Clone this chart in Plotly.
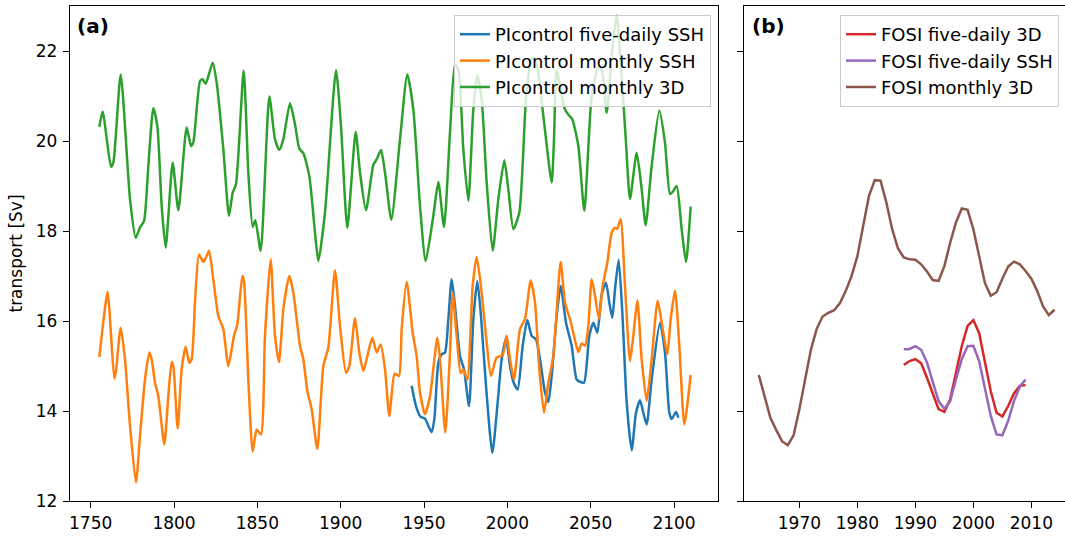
import plotly.graph_objects as go

# ---------------- data ----------------
green_years = [1755.2, 1757.2, 1762.2, 1763.6, 1768.0, 1773.6, 1777.0, 1779.6, 1782.0, 1784.6,
               1787.6, 1790.0, 1792.6, 1795.0, 1799.2, 1802.6, 1807.6, 1810.2, 1811.6, 1815.6,
               1817.2, 1819.0, 1823.2, 1825.6, 1829.6, 1833.0, 1835.2, 1837.2, 1841.8, 1844.6,
               1847.2, 1848.8, 1852.0, 1857.2, 1860.6, 1863.2, 1865.6, 1869.6, 1872.6, 1875.2,
               1877.6, 1881.2, 1884.6, 1886.6, 1890.6, 1897.2, 1900.2, 1904.0, 1909.0, 1911.6,
               1915.2, 1919.6, 1921.6, 1924.2, 1926.6, 1930.4, 1935.6, 1940.0, 1943.6, 1947.6,
               1951.0, 1955.6, 1958.6, 1962.0, 1965.6, 1968.6, 1970.6, 1973.6, 1976.6, 1979.6,
               1982.0, 1984.6, 1987.6, 1991.2, 1994.6, 1998.2, 2000.6, 2003.6, 2007.2, 2011.2,
               2014.6, 2017.6, 2021.6, 2026.6, 2028.0, 2029.6, 2034.6, 2037.2, 2039.0, 2042.6,
               2046.2, 2050.6, 2054.6, 2056.6, 2059.6, 2062.6, 2065.6, 2068.6, 2071.2, 2073.6,
               2077.6, 2080.6, 2083.0, 2086.6, 2091.2, 2094.6, 2097.6, 2099.2, 2101.6, 2104.6,
               2107.2, 2110.0]
green_vals = [20.31, 20.65, 19.43, 19.52, 21.48, 18.71, 17.85, 18.08, 18.22, 19.45,
              20.73, 20.33, 18.56, 17.63, 19.52, 18.46, 20.30, 19.89, 19.97, 21.33,
              21.37, 21.27, 21.74, 21.30, 19.82, 18.34, 18.85, 19.04, 21.56, 19.30,
              18.09, 18.24, 17.56, 20.99, 20.04, 19.80, 20.04, 20.84, 20.37, 19.83,
              19.73, 19.22, 17.96, 17.33, 18.41, 21.57, 20.33, 18.07, 20.20, 19.30,
              18.46, 19.47, 19.59, 19.80, 19.30, 18.25, 20.04, 21.48, 20.70, 18.56,
              17.33, 18.34, 19.09, 18.09, 20.19, 21.70, 21.59, 19.82, 18.67, 20.70,
              21.46, 20.93, 19.08, 17.56, 18.71, 19.57, 18.93, 18.04, 18.41, 20.93,
              21.85, 21.70, 20.56, 19.08, 20.04, 21.56, 20.70, 20.56, 20.48, 19.89,
              18.45, 21.00, 21.63, 21.59, 20.63, 21.89, 22.79, 21.45, 19.96, 18.71,
              19.74, 18.93, 18.13, 19.45, 20.68, 19.96, 18.82, 18.87, 19.00, 18.04,
              17.31, 18.54]

orange_years = [1755.2, 1760.2, 1762.0, 1764.2, 1765.2, 1768.0, 1770.6, 1773.6, 1777.2, 1779.6,
                1782.6, 1785.2, 1786.6, 1788.6, 1790.6, 1794.2, 1796.6, 1798.6, 1799.6, 1802.2,
                1804.6, 1807.0, 1809.2, 1810.6, 1812.6, 1815.0, 1817.6, 1819.2, 1821.0, 1823.6,
                1826.6, 1829.6, 1832.6, 1836.0, 1838.0, 1841.0, 1842.0, 1844.6, 1847.2, 1849.6,
                1852.2, 1854.6, 1858.0, 1860.6, 1863.0, 1865.6, 1869.2, 1871.6, 1875.6, 1877.6,
                1880.0, 1882.6, 1886.0, 1889.6, 1892.6, 1896.6, 1899.6, 1903.2, 1905.2, 1908.6,
                1911.2, 1913.6, 1916.0, 1919.0, 1921.6, 1924.0, 1926.6, 1929.2, 1932.4, 1935.0,
                1936.6, 1939.6, 1943.2, 1945.6, 1947.6, 1950.6, 1953.6, 1958.0, 1959.6, 1962.8,
                1965.6, 1967.2, 1969.6, 1972.0, 1973.6, 1976.0, 1979.2, 1981.6, 1984.6, 1987.2,
                1990.2, 1993.6, 1997.2, 1999.6, 2001.6, 2004.0, 2007.6, 2010.6, 2014.0, 2016.6,
                2019.2, 2022.0, 2024.6, 2027.6, 2032.0, 2034.6, 2037.6, 2040.0, 2042.6, 2044.6,
                2046.6, 2048.6, 2050.6, 2052.6, 2055.0, 2057.2, 2060.0, 2062.6, 2064.6, 2066.0,
                2068.0, 2070.6, 2073.6, 2075.6, 2078.0, 2080.6, 2083.6, 2086.6, 2090.2, 2093.2,
                2096.0, 2098.0, 2100.6, 2103.2, 2106.2, 2110.0]
orange_vals = [15.20, 16.65, 15.82, 14.72, 14.89, 15.85, 15.15, 13.67, 12.41, 13.45,
               14.70, 15.30, 15.15, 14.63, 14.33, 13.26, 14.33, 15.09, 15.00, 13.61,
               14.93, 15.43, 15.07, 15.15, 16.41, 17.48, 17.31, 17.41, 17.56, 16.93,
               16.11, 15.82, 15.00, 15.67, 15.93, 17.00, 16.89, 14.70, 13.10, 13.59,
               13.48, 15.67, 17.37, 15.67, 15.09, 16.26, 17.00, 16.63, 15.45, 15.15,
               14.45, 14.04, 13.16, 15.00, 15.41, 17.13, 15.89, 14.85, 15.00, 16.06,
               15.30, 14.89, 15.22, 15.63, 15.30, 15.48, 14.93, 13.89, 14.83, 14.78,
               15.82, 16.87, 15.74, 15.22, 14.41, 13.93, 14.33, 15.63, 15.15, 13.52,
               15.30, 16.63, 15.67, 14.84, 14.93, 14.70, 16.78, 17.43, 16.63, 15.67,
               14.78, 15.19, 15.24, 15.67, 15.15, 14.70, 15.82, 16.04, 16.90, 16.41,
               14.93, 13.96, 14.63, 15.22, 17.31, 16.41, 16.04, 15.67, 15.31, 15.50,
               15.45, 15.89, 16.93, 16.56, 16.05, 16.78, 17.30, 17.96, 18.07, 18.05,
               18.26, 16.78, 15.11, 15.67, 16.46, 15.15, 14.22, 15.15, 16.45, 15.82,
               15.26, 16.04, 16.67, 15.45, 13.70, 14.80]

blue_years = [1942.6, 1945.2, 1948.0, 1950.6, 1952.6, 1954.6, 1956.2, 1958.6, 1960.6, 1962.6,
              1964.6, 1966.6, 1968.6, 1971.6, 1974.0, 1977.0, 1979.6, 1982.0, 1984.2, 1987.2,
              1991.0, 1994.0, 1996.6, 1999.2, 2001.6, 2003.6, 2006.2, 2009.2, 2012.0, 2014.6,
              2017.2, 2019.6, 2022.6, 2024.6, 2026.6, 2029.6, 2032.0, 2035.2, 2038.6, 2041.6,
              2043.6, 2046.0, 2049.2, 2051.6, 2054.0, 2056.6, 2059.2, 2061.2, 2063.0, 2064.6,
              2066.8, 2069.2, 2071.6, 2074.6, 2077.2, 2079.6, 2081.6, 2083.6, 2086.6, 2091.6,
              2094.6, 2097.2, 2098.6, 2101.2, 2102.6]
blue_vals = [14.56, 14.11, 13.87, 13.83, 13.67, 13.53, 13.82, 15.07, 15.26, 15.30,
             16.04, 16.93, 16.33, 15.22, 14.93, 14.11, 16.04, 16.89, 16.11, 14.56,
             13.07, 14.11, 15.15, 15.61, 15.00, 14.65, 14.48, 15.45, 16.02, 15.67,
             15.59, 15.15, 14.41, 14.20, 14.78, 16.11, 16.78, 15.96, 15.45, 14.70,
             14.65, 14.63, 15.67, 15.96, 15.74, 16.59, 16.85, 16.41, 16.07, 16.70,
             17.36, 16.04, 14.19, 13.13, 13.96, 14.24, 13.96, 13.70, 14.70, 15.96,
             15.30, 13.96, 13.82, 13.98, 13.85]

brown_years = list(range(1963, 2015))
brown_vals = [14.80, 14.30, 13.85, 13.58, 13.33, 13.24, 13.46, 14.04, 14.74, 15.37,
              15.83, 16.10, 16.18, 16.24, 16.40, 16.67, 17.00, 17.44, 18.11, 18.78,
              19.13, 19.12, 18.63, 18.04, 17.61, 17.41, 17.37, 17.36, 17.26, 17.10,
              16.91, 16.89, 17.22, 17.74, 18.19, 18.50, 18.47, 18.04, 17.44, 16.84,
              16.56, 16.64, 16.94, 17.21, 17.32, 17.26, 17.11, 16.94, 16.67, 16.33,
              16.13, 16.25]

fosi_years = list(range(1988, 2010))
red_vals = [15.02, 15.11, 15.15, 15.06, 14.74, 14.37, 14.04, 13.98, 14.26, 14.85,
            15.44, 15.89, 16.02, 15.73, 15.08, 14.44, 13.96, 13.88, 14.11, 14.39,
            14.56, 14.58]
purple_vals = [15.37, 15.38, 15.44, 15.36, 15.08, 14.63, 14.22, 14.05, 14.22, 14.70,
               15.15, 15.44, 15.45, 15.11, 14.50, 13.89, 13.48, 13.46, 13.78, 14.22,
               14.54, 14.70]

x_ticks_a = [1750, 1800, 1850, 1900, 1950, 2000, 2050, 2100]
x_ticks_b = [1970, 1980, 1990, 2000, 2010]
y_ticks = [12, 14, 16, 18, 20, 22]

# ---------------- figure ----------------
FONT = "DejaVu Sans"
LW = 2.5
fig = go.Figure()

fig.add_trace(go.Scatter(x=blue_years, y=blue_vals, mode="lines", name="PIcontrol five-daily SSH",
                         line=dict(color="#1f77b4", width=LW, shape="spline", smoothing=0.6),
                         xaxis="x", yaxis="y", legend="legend"))
fig.add_trace(go.Scatter(x=orange_years, y=orange_vals, mode="lines", name="PIcontrol monthly SSH",
                         line=dict(color="#ff7f0e", width=LW, shape="spline", smoothing=0.6),
                         xaxis="x", yaxis="y", legend="legend"))
fig.add_trace(go.Scatter(x=green_years, y=green_vals, mode="lines", name="PIcontrol monthly 3D",
                         line=dict(color="#2ca02c", width=LW, shape="spline", smoothing=0.6),
                         xaxis="x", yaxis="y", legend="legend"))

fig.add_trace(go.Scatter(x=fosi_years, y=red_vals, mode="lines", name="FOSI five-daily 3D",
                         line=dict(color="#d62728", width=LW),
                         xaxis="x2", yaxis="y2", legend="legend2"))
fig.add_trace(go.Scatter(x=fosi_years, y=purple_vals, mode="lines", name="FOSI five-daily SSH",
                         line=dict(color="#9467bd", width=LW),
                         xaxis="x2", yaxis="y2", legend="legend2"))
fig.add_trace(go.Scatter(x=brown_years, y=brown_vals, mode="lines", name="FOSI monthly 3D",
                         line=dict(color="#8c564b", width=LW),
                         xaxis="x2", yaxis="y2", legend="legend2"))

axis_common = dict(showgrid=False, zeroline=False, showline=True, linecolor="black", linewidth=1.3,
                   ticks="outside", ticklen=6, tickwidth=1.3, tickcolor="black",
                   tickfont=dict(family=FONT, size=17, color="black"))

W, H = 1065, 537
ml, mr, mt, mb = 70, 0, 6, 36
pw = W - ml - mr
ph = H - mt - mb

fig.update_layout(
    width=W, height=H,
    margin=dict(l=ml, r=mr, t=mt, b=mb),
    paper_bgcolor="white", plot_bgcolor="white",
    font=dict(family=FONT, size=17, color="black"),
    xaxis=dict(domain=[0, (718 - ml) / pw], range=[1737.6, 2126.4], tickvals=x_ticks_a,
               mirror=True, anchor="y", **axis_common),
    yaxis=dict(domain=[0, 1], range=[12, 23], tickvals=y_ticks, mirror=True, anchor="x",
               title=dict(text="transport [Sv]", font=dict(family=FONT, size=17), standoff=8),
               ticklabelstandoff=2, **axis_common),
    xaxis2=dict(domain=[(744 - ml) / pw, 1], range=[1960.45, 2015.8], tickvals=x_ticks_b,
                mirror=True, anchor="y2", **axis_common),
    yaxis2=dict(domain=[0, 1], range=[12, 23], tickvals=y_ticks, showticklabels=False,
                anchor="x2", **axis_common),
    legend=dict(x=(711 - ml) / pw, y=1 - (15 - mt) / ph, xanchor="right", yanchor="top",
                bgcolor="rgba(255,255,255,0.8)", bordercolor="#cccccc", borderwidth=1,
                font=dict(family=FONT, size=18, color="black")),
    legend2=dict(x=(1059 - ml) / pw, y=1 - (15 - mt) / ph, xanchor="right", yanchor="top",
                 bgcolor="rgba(255,255,255,0.8)", bordercolor="#cccccc", borderwidth=1,
                 font=dict(family=FONT, size=18, color="black")),
    showlegend=True,
)

fig.add_annotation(text="<b>(a)</b>", xref="x domain", yref="y domain", x=0.008, y=1 - 6 / ph,
                   xanchor="left", yanchor="top", showarrow=False,
                   font=dict(family=FONT, size=20, color="black"))
fig.add_annotation(text="<b>(b)</b>", xref="x2 domain", yref="y2 domain", x=0.02, y=1 - 6 / ph,
                   xanchor="left", yanchor="top", showarrow=False,
                   font=dict(family=FONT, size=20, color="black"))

fig.write_html("out.html", config={"displayModeBar": False},
               post_script="document.body.style.margin='0px';"
                           "document.body.style.overflow='hidden';")
